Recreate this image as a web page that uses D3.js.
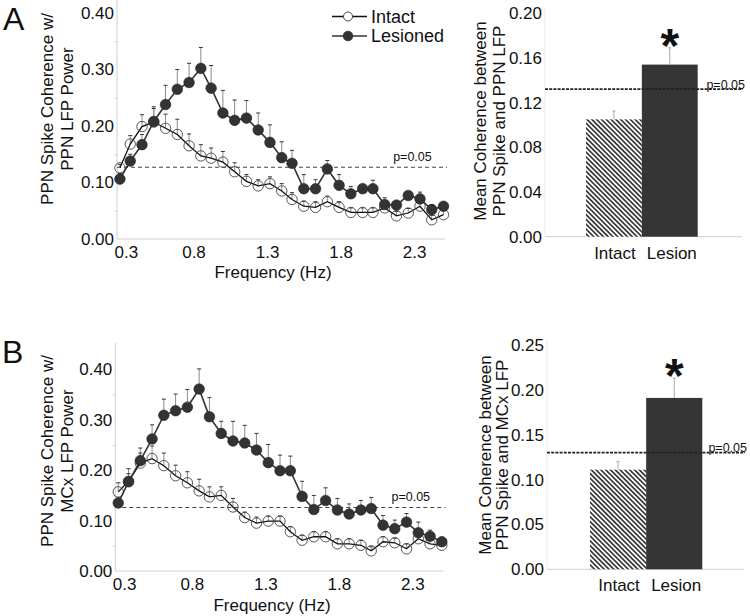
<!DOCTYPE html>
<html><head><meta charset="utf-8">
<script src="https://cdn.jsdelivr.net/npm/d3@7"></script>
<style>
body{margin:0;background:#fff}
svg{display:block}
text{font-family:"Liberation Sans",Arial,Helvetica,sans-serif;fill:#111}
</style>
</head><body>
<svg id="chart" width="750" height="616"></svg>
<script>
// ---------------- DATA ----------------
const freqHz = [0.30,0.37,0.45,0.53,0.61,0.69,0.77,0.85,0.92,1.00,1.08,1.16,1.24,1.32,1.40,1.47,1.55,1.63,1.71,1.79,1.87,1.95,2.02,2.10,2.18,2.26,2.34,2.42,2.50];

const ppnIntact = [0.126,0.168,0.199,0.207,0.196,0.185,0.165,0.147,0.143,0.136,0.119,0.102,0.094,0.098,0.085,0.070,0.058,0.056,0.066,0.056,0.047,0.047,0.047,0.055,0.041,0.046,0.058,0.034,0.043];
const ppnIntactErr = [0.006,0.015,0.021,0.024,0.025,0.027,0.021,0.020,0.018,0.019,0.016,0.012,0.011,0.012,0.013,0.012,0.009,0.010,0.010,0.010,0.008,0.008,0.008,0.009,0.008,0.008,0.009,0.008,0.009];
const ppnLesioned = [0.106,0.138,0.167,0.208,0.238,0.265,0.277,0.302,0.267,0.223,0.210,0.214,0.193,0.171,0.144,0.134,0.089,0.089,0.124,0.095,0.080,0.089,0.089,0.061,0.060,0.077,0.071,0.052,0.058];
const ppnLesionedErr = [0.010,0.012,0.018,0.026,0.034,0.035,0.034,0.037,0.040,0.040,0.036,0.031,0.030,0.031,0.028,0.023,0.025,0.016,0.015,0.019,0.013,0.008,0.015,0.012,0.006,0.005,0.012,0.009,0.007];

const mcxIntact = [0.157,0.178,0.214,0.223,0.209,0.189,0.175,0.159,0.147,0.150,0.127,0.106,0.095,0.099,0.099,0.078,0.061,0.068,0.068,0.054,0.054,0.051,0.040,0.058,0.056,0.044,0.064,0.054,0.051];
const mcxIntactErr = [0.018,0.015,0.020,0.025,0.025,0.021,0.022,0.023,0.020,0.017,0.017,0.011,0.012,0.010,0.010,0.010,0.010,0.010,0.010,0.010,0.010,0.010,0.008,0.010,0.009,0.010,0.010,0.010,0.010];
const mcxLesioned = [0.135,0.177,0.219,0.262,0.309,0.318,0.325,0.361,0.306,0.273,0.258,0.254,0.240,0.215,0.199,0.199,0.148,0.122,0.140,0.121,0.113,0.121,0.124,0.091,0.084,0.097,0.076,0.069,0.058];
const mcxLesionedErr = [0.010,0.026,0.025,0.028,0.032,0.033,0.035,0.040,0.038,0.024,0.039,0.035,0.033,0.036,0.031,0.029,0.030,0.028,0.025,0.023,0.020,0.019,0.022,0.019,0.017,0.017,0.021,0.012,0.009];

const barCategories = ["Intact", "Lesion"];
const ppnBarMeans = [0.105, 0.154];
const ppnBarErr = [0.0075, 0.015];
const mcxBarMeans = [0.111, 0.191];
const mcxBarErr = [0.009, 0.022];

const ppnLineThreshold = 0.127;
const mcxLineThreshold = 0.126;
const ppnBarThreshold = 0.132;
const mcxBarThreshold = 0.130;

const freqTicks = [0.3, 0.8, 1.3, 1.8, 2.3];
const lineYTicks = [0.00, 0.10, 0.20, 0.30, 0.40];
const ppnBarTicks = [0.00, 0.04, 0.08, 0.12, 0.16, 0.20];
const mcxBarTicks = [0.00, 0.05, 0.10, 0.15, 0.20, 0.25];

const seriesNames = ["Intact", "Lesioned"];

// ---------------- DRAWING ----------------
const svg = d3.select("#chart");
svg.append("rect").attr("width", 750).attr("height", 616).attr("fill", "#fff");

const defs = svg.append("defs");
const pat = defs.append("pattern").attr("id", "hatch")
  .attr("patternUnits", "userSpaceOnUse").attr("width", 3.4).attr("height", 3.4)
  .attr("patternTransform", "rotate(-45)");
pat.append("rect").attr("width", 3.4).attr("height", 3.4).attr("fill", "#fff");
pat.append("rect").attr("width", 1.7).attr("height", 3.4).attr("fill", "#3a3a3a");

const FS = 17;
const LES = "#333";

function lineChart(o) {
  const g = svg.append("g");
  const x = d3.scaleLinear().domain([0.28, 2.51]).range([o.x0, o.x1]);
  const y = d3.scaleLinear().domain([0, 0.4]).range([o.y0, o.y40]);

  g.append("line").attr("x1", o.x0).attr("x2", o.x0).attr("y1", o.y0).attr("y2", o.yTop)
    .attr("stroke", "#cfcfcf").attr("stroke-width", 1);
  g.append("line").attr("x1", o.x0).attr("x2", o.x1).attr("y1", o.y0).attr("y2", o.y0)
    .attr("stroke", "#cfcfcf").attr("stroke-width", 1);

  const minor = g.append("g").attr("transform", `translate(${o.x0},0)`)
    .call(d3.axisLeft(y).tickValues(d3.range(0.05, 0.41, 0.1)).tickSize(3).tickFormat(""));
  minor.select(".domain").remove();
  minor.selectAll("line").attr("stroke", "#d6d6d6");

  const ya = g.append("g").attr("transform", `translate(${o.x0},0)`)
    .call(d3.axisLeft(y).tickValues(lineYTicks).tickSize(0).tickPadding(3).tickFormat(d3.format(".2f")));
  ya.select(".domain").remove();
  ya.selectAll("text").attr("font-size", FS).attr("font-family", "Liberation Sans, Arial, sans-serif").attr("fill", "#111");

  const xa = g.append("g").attr("transform", `translate(0,${o.y0})`)
    .call(d3.axisBottom(x).tickValues(freqTicks).tickSize(0).tickPadding(7).tickFormat(d3.format(".1f")));
  xa.select(".domain").remove();
  xa.selectAll("text").attr("font-size", FS).attr("font-family", "Liberation Sans, Arial, sans-serif").attr("fill", "#111");
  xa.selectAll(".tick").each(function(d) {
    const t = d3.select(this).select("text");
    const w = t.node().getComputedTextLength();
    const px = x(d);
    if (px - w / 2 < o.x0 - 3) t.attr("x", (o.x0 - 3 + w / 2) - px);
  });

  g.append("line").attr("x1", o.x0).attr("x2", o.x1 + 2)
    .attr("y1", y(o.thr)).attr("y2", y(o.thr))
    .attr("stroke", "#444").attr("stroke-width", 1.2).attr("stroke-dasharray", "4,3");
  g.append("text").attr("x", x(2.42)).attr("y", y(o.thr) - 6).attr("text-anchor", "end")
    .attr("font-size", 12.5).text("p=0.05");

  const series = [
    {vals: o.les, err: o.lesErr},
    {vals: o.int, err: o.intErr}
  ];

  series.forEach(s => {
    const eg = g.append("g");
    freqHz.forEach((f, i) => {
      eg.append("line").attr("x1", x(f)).attr("x2", x(f))
        .attr("y1", y(s.vals[i])).attr("y2", y(s.vals[i] + s.err[i]))
        .attr("stroke", "#8a8a8a").attr("stroke-width", 1);
      eg.append("line").attr("x1", x(f) - 2).attr("x2", x(f) + 2)
        .attr("y1", y(s.vals[i] + s.err[i])).attr("y2", y(s.vals[i] + s.err[i]))
        .attr("stroke", "#333").attr("stroke-width", 1);
    });
  });

  const lineGen = d3.line().x((d, i) => x(freqHz[i])).y(d => y(d));

  g.append("path").datum(o.int).attr("d", lineGen)
    .attr("fill", "none").attr("stroke", "#111").attr("stroke-width", 1.3);
  g.append("g").selectAll("circle").data(o.int).join("circle")
    .attr("cx", (d, i) => x(freqHz[i])).attr("cy", d => y(d)).attr("r", 5.2)
    .attr("fill", "none").attr("stroke", "#444").attr("stroke-width", 0.9);

  g.append("path").datum(o.les).attr("d", lineGen)
    .attr("fill", "none").attr("stroke", LES).attr("stroke-width", 1.6);
  g.append("g").selectAll("circle").data(o.les).join("circle")
    .attr("cx", (d, i) => x(freqHz[i])).attr("cy", d => y(d)).attr("r", 5.3)
    .attr("fill", LES).attr("stroke", "#222").attr("stroke-width", 0.6);

  g.append("text").attr("x", o.xTitleX).attr("y", o.xTitleY).attr("text-anchor", "middle")
    .attr("font-size", FS).text("Frequency (Hz)");

  o.yTitle.forEach((t, k) => {
    g.append("text").attr("transform", `translate(${o.yTitleX[k]},${o.yTitleY}) rotate(-90)`)
      .attr("text-anchor", "middle").attr("dy", "0.36em").attr("font-size", FS).text(t);
  });
}

function barChart(o) {
  const g = svg.append("g");
  const x = d3.scaleBand().domain(barCategories).range([o.bx0, o.bx1]).padding(0);
  const y = d3.scaleLinear().domain([0, o.ymax]).range([o.y0, o.yMax]);

  g.append("line").attr("x1", o.ax0).attr("x2", o.ax0).attr("y1", o.y0).attr("y2", o.yMax - 6)
    .attr("stroke", "#ececec").attr("stroke-width", 1);
  g.append("line").attr("x1", o.ax0).attr("x2", o.ax1).attr("y1", o.y0).attr("y2", o.y0)
    .attr("stroke", "#cfcfcf").attr("stroke-width", 1);

  const ya = g.append("g").attr("transform", `translate(${o.ax0},0)`)
    .call(d3.axisLeft(y).tickValues(o.ticks).tickSize(0).tickPadding(3).tickFormat(d3.format(".2f")));
  ya.select(".domain").remove();
  ya.selectAll("text").attr("font-size", FS).attr("font-family", "Liberation Sans, Arial, sans-serif").attr("fill", "#111");

  barCategories.forEach((c, i) => {
    const cx = x(c) + x.bandwidth() / 2;
    g.append("line").attr("x1", cx).attr("x2", cx)
      .attr("y1", y(o.means[i])).attr("y2", y(o.means[i] + o.err[i]))
      .attr("stroke", "#a8a8a8").attr("stroke-width", 1);
    g.append("line").attr("x1", cx - 1.5).attr("x2", cx + 1.5)
      .attr("y1", y(o.means[i] + o.err[i])).attr("y2", y(o.means[i] + o.err[i]))
      .attr("stroke", "#a8a8a8").attr("stroke-width", 1);
  });

  g.append("g").selectAll("rect").data(barCategories).join("rect")
    .attr("x", d => x(d)).attr("width", x.bandwidth())
    .attr("y", (d, i) => y(o.means[i])).attr("height", (d, i) => y(0) - y(o.means[i]))
    .attr("fill", (d, i) => i === 0 ? "url(#hatch)" : "#353535");

  g.append("line").attr("x1", o.ax0).attr("x2", o.ax1 + 1)
    .attr("y1", y(o.thr)).attr("y2", y(o.thr))
    .attr("stroke", "#222").attr("stroke-width", 1.8).attr("stroke-dasharray", "3,1.2");
  g.append("text").attr("x", o.ax1 + 3).attr("y", y(o.thr) - 0.5).attr("text-anchor", "end")
    .attr("font-size", 12.5).text("p=0.05");

  const lx = x("Lesion") + x.bandwidth() / 2;
  g.append("text").attr("x", lx).attr("y", y(o.means[1] + o.err[1]) + o.astOff)
    .attr("text-anchor", "middle").attr("font-size", 48).attr("font-weight", "bold").text("*");

  g.append("g").selectAll("text").data(barCategories).join("text")
    .attr("x", d => x(d) + x.bandwidth() / 2 + (d === "Intact" ? 1 : 2))
    .attr("y", o.y0 + 22).attr("text-anchor", "middle").attr("font-size", FS).text(d => d);

  o.yTitle.forEach((t, k) => {
    g.append("text").attr("transform", `translate(${o.yTitleX[k]},${o.yTitleY}) rotate(-90)`)
      .attr("text-anchor", "middle").attr("dy", "0.36em").attr("font-size", FS).text(t);
  });
}

lineChart({
  x0: 117, x1: 445, y0: 239, y40: 13, yTop: 0,
  int: ppnIntact, intErr: ppnIntactErr, les: ppnLesioned, lesErr: ppnLesionedErr,
  thr: ppnLineThreshold,
  xTitleX: 273, xTitleY: 278,
  yTitle: ["PPN Spike Coherence w/", "PPN LFP Power"], yTitleX: [47, 67], yTitleY: 109
});
barChart({
  bx0: 586, bx1: 697.7, ax0: 545, ax1: 742, y0: 236.7, yMax: 13.2, ymax: 0.20,
  ticks: ppnBarTicks, means: ppnBarMeans, err: ppnBarErr, thr: ppnBarThreshold, astOff: 14,
  yTitle: ["Mean Coherence between", "PPN Spike and PPN LFP"], yTitleX: [480, 499], yTitleY: 121
});

lineChart({
  x0: 115.3, x1: 443.3, y0: 571, y40: 369.4, yTop: 343,
  int: mcxIntact, intErr: mcxIntactErr, les: mcxLesioned, lesErr: mcxLesionedErr,
  thr: mcxLineThreshold,
  xTitleX: 272, xTitleY: 611,
  yTitle: ["PPN Spike Coherence w/", "MCx LFP Power"], yTitleX: [47, 67], yTitleY: 451
});
barChart({
  bx0: 590, bx1: 702.3, ax0: 547, ax1: 744, y0: 569.3, yMax: 345, ymax: 0.25,
  ticks: mcxBarTicks, means: mcxBarMeans, err: mcxBarErr, thr: mcxBarThreshold, astOff: 14,
  yTitle: ["Mean Coherence between", "PPN Spike and MCx LFP"], yTitleX: [485, 502], yTitleY: 455
});

const leg = svg.append("g");
seriesNames.forEach((name, k) => {
  const ly = 16.5 + k * 19.5;
  leg.append("line").attr("x1", 332).attr("x2", 367).attr("y1", ly).attr("y2", ly)
    .attr("stroke", k === 0 ? "#111" : LES).attr("stroke-width", 1.6);
  leg.append("circle").attr("cx", 348).attr("cy", ly).attr("r", k === 0 ? 4.5 : 4.8)
    .attr("fill", k === 0 ? "#fff" : LES).attr("stroke", "#333").attr("stroke-width", 0.9);
  leg.append("text").attr("x", 371).attr("y", ly + 6.3).attr("font-size", 18).text(name);
});

svg.append("text").attr("x", 3).attr("y", 29.5).attr("font-size", 32).text("A");
svg.append("text").attr("x", 2).attr("y", 363).attr("font-size", 32).text("B");
</script>
</body></html>
